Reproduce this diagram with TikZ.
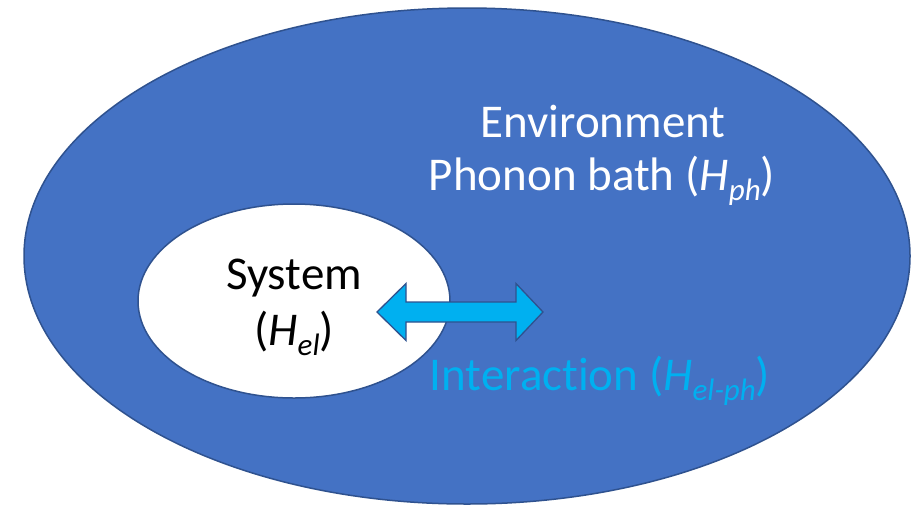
\documentclass[tikz,border=0pt]{standalone}
\usepackage{fontspec}
\setmainfont{Carlito}[Ligatures={NoCommon,NoRare}]
\definecolor{envblue}{HTML}{4472C4}
\definecolor{edgeblue}{HTML}{2F528F}
\definecolor{lightblue}{HTML}{00B0F0}
\newcommand{\sbig}{\fontsize{47}{55}\selectfont}
\newcommand{\subs}[1]{\raisebox{-0.22em}{\fontsize{31}{31}\selectfont\itshape #1}}
\begin{document}
\begin{tikzpicture}[x=1pt,y=-1pt,
  region/.style={draw=edgeblue,line width=1.5pt},
  txt/.style={inner sep=0pt,anchor=base,font=\sbig}]
\useasboundingbox (0,0) rectangle (912,507);
\fill[white] (0,0) rectangle (912,507);
% environment
\draw[region,fill=envblue] (467,256) ellipse [x radius=443, y radius=248];
% system
\draw[region,fill=white] (294,301) ellipse [x radius=156, y radius=97];
% interaction arrow
\draw[draw=edgeblue,line width=1.3pt,fill=lightblue,line join=miter]
  (377,312) -- (406,283.5) -- (406,302) -- (516,302) -- (516,283.5) -- (543,312)
  -- (516,340.5) -- (516,322) -- (406,322) -- (406,340.5) -- cycle;
% texts
\node[txt,text=white] (env) at (603,137) {Environment};
\node[txt,text=white] (bath) at (602,190) {Phonon bath (\textit{H}\subs{ph})};
\node[txt,text=black] (sys) at (294,289) {System};
\node[txt,text=black] (hel) at (294,345) {(\textit{H}\subs{el})};
\node[txt,text=lightblue] (inter) at (600,390) {Interaction (\textit{H}\subs{el-ph})};
\end{tikzpicture}
\end{document}
